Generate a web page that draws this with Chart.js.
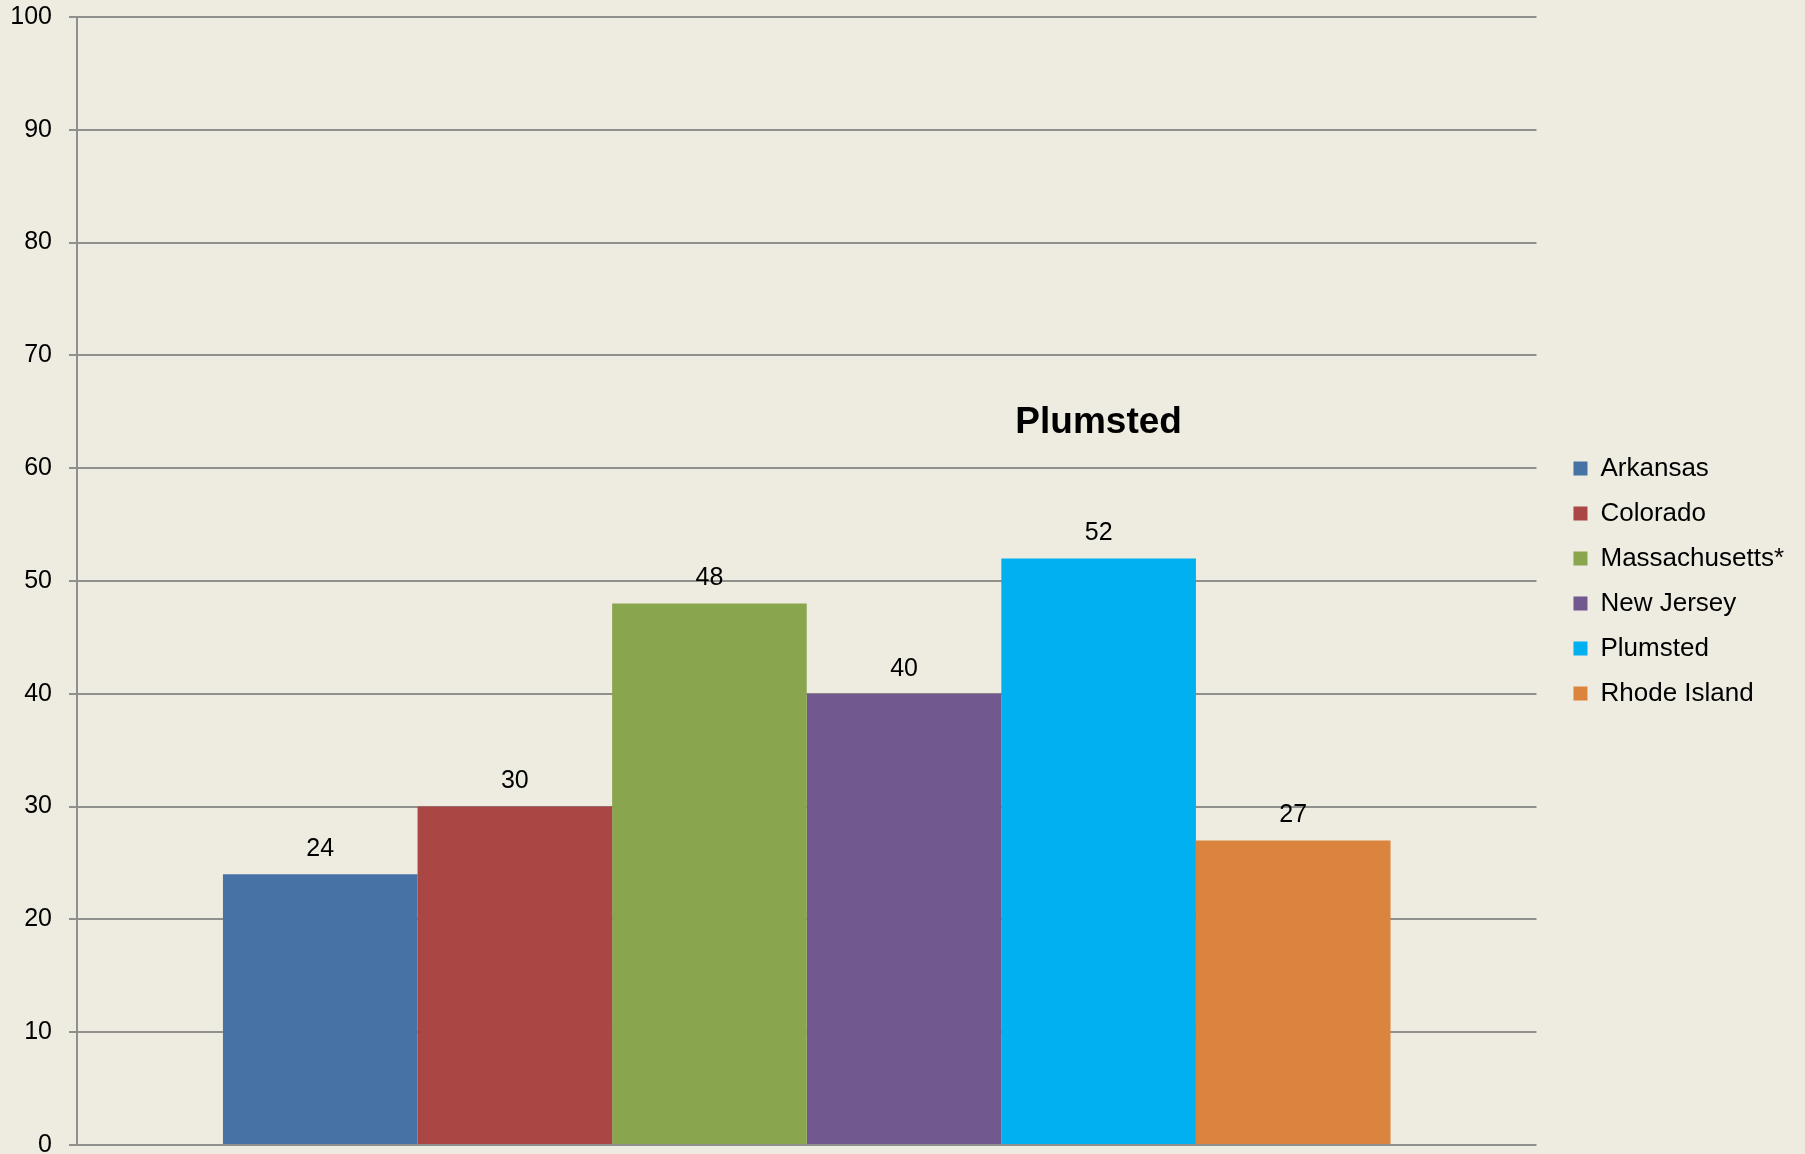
<!DOCTYPE html>
<html lang="en">

<head>
    <meta charset="UTF-8">
    <title>Plumsted</title>
    <script src="https://cdn.jsdelivr.net/npm/chart.js"></script>
    <style>
        html, body {
            margin: 0;
            padding: 0;
            overflow: hidden;
            background-color: #eeebe0;
        }

        #chart-container {
            width: 1805px;
            height: 1157px;
        }
    </style>
</head>

<body>
    <div id="chart-container">
        <canvas id="barChart"></canvas>
    </div>

    <script>
        // one category, one dataset per place (legend on the right)
        const places = ['Arkansas', 'Colorado', 'Massachusetts*', 'New Jersey', 'Plumsted', 'Rhode Island'];
        const values = [24, 30, 48, 40, 52, 27];
        const colors = ['#4672a6', '#aa4644', '#89a54e', '#71588f', '#00b0f0', '#db843d'];
        const yTicks = [0, 10, 20, 30, 40, 50, 60, 70, 80, 90, 100];
        const chartTitle = 'Plumsted';
        const titleAt = 64; // title sits above the Plumsted bar, at this y value

        const ctx = document.getElementById('barChart').getContext('2d');
        const font = 'Liberation Sans, Arial, sans-serif';

        // value labels above each bar + the title over the Plumsted bar
        const labelPlugin = {
            id: 'barLabels',
            afterDatasetsDraw(chart) {
                const c = chart.ctx;
                c.save();
                c.fillStyle = '#000';
                c.textAlign = 'center';
                c.textBaseline = 'middle';
                c.font = '25px ' + font;
                chart.data.datasets.forEach((ds, i) => {
                    const bar = chart.getDatasetMeta(i).data[0];
                    c.fillText(ds.data[0], bar.x, bar.y - 25);
                });
                const idx = places.indexOf(chartTitle);
                const tb = chart.getDatasetMeta(idx).data[0];
                c.font = 'bold 37px ' + font;
                c.fillText(chartTitle, tb.x, chart.scales.y.getPixelForValue(titleAt));
                c.restore();
            }
        };

        const chart = new Chart(ctx, {
            type: 'bar',
            data: {
                labels: [''],
                datasets: places.map((p, i) => ({
                    label: p,
                    data: [values[i]],
                    backgroundColor: colors[i],
                    borderWidth: 0,
                    categoryPercentage: 0.8,
                    barPercentage: 1.0
                }))
            },
            options: {
                responsive: true,
                maintainAspectRatio: false,
                animation: false,
                layout: { padding: { top: 17, left: 10, right: 11, bottom: 12 } },
                scales: {
                    x: { display: false },
                    y: {
                        min: 0,
                        max: 100,
                        afterBuildTicks: (s) => { s.ticks = yTicks.map(v => ({ value: v })); },
                        // keep the axis tight: label + padding + tick only
                        afterFit: (s) => { s.width = 67; s.paddingTop = 0; s.paddingBottom = 0; },
                        ticks: { color: '#000', font: { family: font, size: 25 }, padding: 17 },
                        grid: { color: '#8f8f8b', lineWidth: 2, tickLength: 8, drawTicks: true },
                        border: { display: true, color: '#8f8f8b', width: 2 }
                    },
                    // empty spacer axis to leave a gap before the legend
                    gap: {
                        type: 'linear',
                        position: 'right',
                        display: true,
                        grid: { display: false },
                        ticks: { display: false },
                        border: { display: false },
                        afterFit: (s) => { s.width = 18; }
                    }
                },
                plugins: {
                    title: { display: false },
                    tooltip: { enabled: false },
                    legend: {
                        position: 'right',
                        labels: {
                            color: '#000',
                            font: { family: font, size: 26 },
                            boxWidth: 14,
                            boxHeight: 14,
                            padding: 19
                        }
                    }
                }
            },
            plugins: [labelPlugin]
        });
    </script>
</body>

</html>
